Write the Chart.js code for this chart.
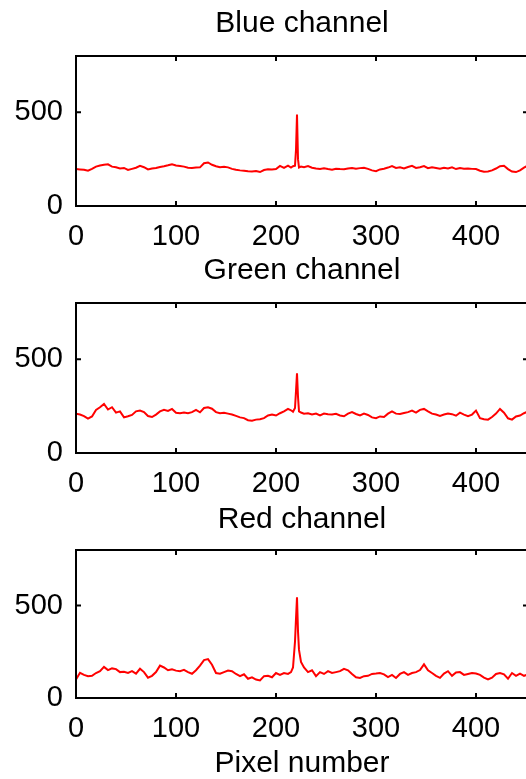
<!DOCTYPE html>
<html lang="en">
  <head>
    <meta charset="UTF-8" />
    <script src="https://cdn.jsdelivr.net/npm/chart.js"></script>
    <title>Channels</title>
    <style>
      body { margin: 0; width: 526px; height: 779px; overflow: hidden; background: #fff; position: relative; }
      canvas { position: absolute; left: 0; }
    </style>
  </head>

  <body>
    <canvas id="blue" width="530" height="250" style="top:0px"></canvas>
    <canvas id="green" width="530" height="247" style="top:250px"></canvas>
    <canvas id="red" width="530" height="282" style="top:497px"></canvas>
  </body>
</html>

<script>
  // pixel positions (x) shared by the three channels
  const pixels = [
    0, 4, 8, 12, 16, 20, 24, 28, 32, 36,
    40, 44, 48, 52, 56, 60, 64, 68, 72, 76,
    80, 84, 88, 92, 96, 100, 104, 108, 112, 116,
    120, 124, 128, 132, 136, 140, 144, 148, 152, 156,
    160, 164, 168, 172, 176, 180, 184, 188, 192, 196,
    200, 204, 208, 212, 215, 217, 219, 220, 221, 222,
    223, 225, 228, 232, 236, 240, 244, 248, 252, 256,
    260, 264, 268, 272, 276, 280, 284, 288, 292, 296,
    300, 304, 308, 312, 316, 320, 324, 328, 332, 336,
    340, 344, 348, 352, 356, 360, 364, 368, 372, 376,
    380, 384, 388, 392, 396, 400, 404, 408, 412, 416,
    420, 424, 428, 432, 436, 440, 444, 448, 452
  ];

  const blueValues = [
    197, 195, 193, 188, 198, 210, 216, 220, 222, 210,
    207, 200, 203, 192, 198, 204, 214, 207, 195, 200,
    203, 208, 212, 217, 223, 216, 213, 210, 204, 203,
    205, 206, 228, 232, 220, 212, 207, 209, 206, 198,
    193, 190, 188, 185, 184, 186, 181, 192, 196, 195,
    197, 214, 203, 215, 205, 212, 215, 300, 488, 250,
    205, 210, 207, 213, 204, 200, 197, 201, 197, 194,
    199, 197, 196, 200, 203, 199, 202, 204, 198, 190,
    186, 195, 199, 205, 213, 203, 206, 200, 208, 214,
    203, 207, 213, 202, 206, 203, 199, 204, 200, 206,
    197, 203, 199, 200, 198, 197, 188, 183, 184, 190,
    200, 212, 215, 197, 184, 181, 190, 205, 216
  ];

  const greenValues = [
    209, 205, 197, 183, 195, 230, 244, 262, 232, 244,
    215, 222, 190, 196, 203, 222, 226, 218, 197, 192,
    205, 222, 230, 224, 235, 215, 212, 216, 212, 218,
    230, 217, 240, 244, 236, 218, 212, 214, 210, 205,
    198, 190, 186, 175, 172, 178, 180, 186, 200, 205,
    200, 212, 222, 235, 228, 220, 240, 330, 425, 300,
    222, 216, 210, 212, 205, 210, 200, 210, 207, 205,
    209, 200, 196, 210, 218, 208, 200, 210, 203, 190,
    186, 195, 192, 210, 222, 210, 208, 213, 218, 226,
    215, 230, 235, 222, 210, 205, 198, 205, 210, 207,
    199, 215, 205, 197, 205, 226, 186, 180, 178, 192,
    210, 235, 215, 185, 178, 195, 200, 212, 222
  ];

  const redValues = [
    100, 136, 125, 118, 120, 135, 145, 168, 151, 160,
    156, 140, 142, 136, 145, 132, 158, 140, 110, 120,
    140, 175, 165, 150, 155, 148, 145, 152, 140, 131,
    150, 175, 205, 210, 180, 135, 131, 140, 148, 145,
    130, 118, 128, 104, 112, 100, 95, 118, 120, 112,
    135, 125, 135, 130, 140, 165, 305, 430, 545, 360,
    260, 195, 165, 140, 150, 118, 140, 130, 145, 135,
    140, 145, 158, 150, 130, 112, 108, 118, 120, 130,
    132, 135, 128, 113, 125, 108, 130, 140, 125, 135,
    140, 151, 182, 150, 135, 120, 109, 132, 145, 120,
    138, 140, 125, 130, 135, 132, 125, 110, 100, 110,
    130, 135, 128, 104, 135, 120, 132, 120, 128
  ];

  const xTicks = [0, 100, 200, 300, 400];
  const yTicks = [0, 500];

  Chart.defaults.font.family = "'Liberation Sans', Arial, sans-serif";
  Chart.defaults.color = "#000";

  // matlab style box with inward ticks
  const framePlugin = {
    id: "frame",
    afterDraw(chart) {
      const ctx = chart.ctx;
      const a = chart.chartArea;
      const x = chart.scales.x;
      const y = chart.scales.y;
      ctx.save();
      ctx.strokeStyle = "#000";
      ctx.lineWidth = 2;
      ctx.strokeRect(a.left, a.top, a.right - a.left, a.bottom - a.top);
      ctx.beginPath();
      x.ticks.forEach(function (t) {
        const px = x.getPixelForValue(t.value);
        ctx.moveTo(px, a.bottom);
        ctx.lineTo(px, a.bottom - 5);
        ctx.moveTo(px, a.top);
        ctx.lineTo(px, a.top + 5);
      });
      y.ticks.forEach(function (t) {
        const py = y.getPixelForValue(t.value);
        ctx.moveTo(a.left, py);
        ctx.lineTo(a.left + 5, py);
        ctx.moveTo(a.right, py);
        ctx.lineTo(a.right - 5, py);
      });
      ctx.stroke();
      ctx.restore();
    },
  };

  function drawPanel(id, title, values, titlePad, axisHeight, axisTitle) {
    const points = pixels.map(function (p, i) {
      return { x: p, y: values[i] };
    });

    const config = {
      type: "line",
      data: {
        datasets: [
          {
            data: points,
            borderColor: "#ff0000",
            borderWidth: 2,
            pointRadius: 0,
            tension: 0,
          },
        ],
      },
      options: {
        responsive: false,
        animation: false,
        layout: { padding: { left: 0, right: 2, top: 0, bottom: 0 } },
        plugins: {
          legend: { display: false },
          tooltip: { enabled: false },
          title: {
            display: true,
            fullSize: false,
            text: title,
            font: { size: 30, weight: "normal" },
            padding: titlePad,
          },
        },
        scales: {
          x: {
            type: "linear",
            min: 0,
            max: 452,
            afterBuildTicks: function (s) {
              s.ticks = xTicks.map(function (v) { return { value: v }; });
            },
            afterFit: function (s) {
              s.height = axisHeight;
            },
            grid: { display: false },
            border: { display: false },
            ticks: { font: { size: 29 }, padding: 6, maxRotation: 0, autoSkip: false },
            title: {
              display: !!axisTitle,
              text: axisTitle || "",
              font: { size: 30, lineHeight: 1 },
              padding: { top: 0, bottom: 0 },
            },
          },
          y: {
            min: 0,
            max: 800,
            afterBuildTicks: function (s) {
              s.ticks = yTicks.map(function (v) { return { value: v }; });
            },
            afterFit: function (s) {
              s.width = 76;
            },
            grid: { display: false },
            border: { display: false },
            ticks: { font: { size: 29 }, padding: 5 },
          },
        },
      },
      plugins: [framePlugin],
    };

    return new Chart(document.getElementById(id), config);
  }

  drawPanel("blue", "Blue channel", blueValues, { top: 6, bottom: 14 }, 44);
  drawPanel("green", "Green channel", greenValues, { top: 3, bottom: 14 }, 44);
  drawPanel("red", "Red channel", redValues, { top: 5, bottom: 12 }, 81, "Pixel number");
</script>
